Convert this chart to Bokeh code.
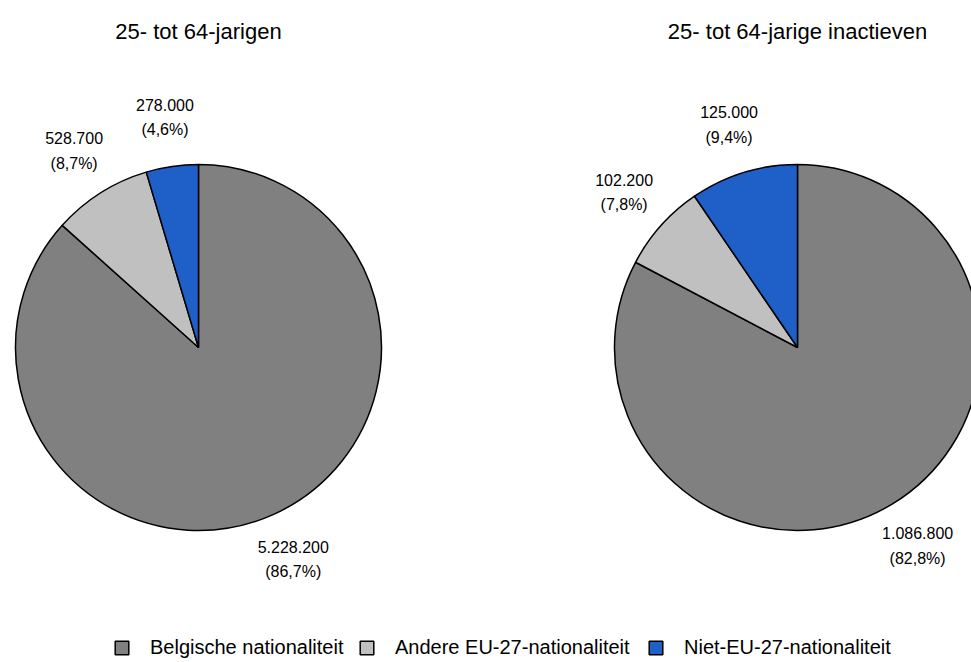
import numpy as np
from bokeh.plotting import figure
from bokeh.models import Range1d, ColumnDataSource, Legend, LegendItem
from bokeh.core.properties import value
from bokeh.embed import file_html
from bokeh.resources import INLINE

# ---- data ----
categories = ["Belgische nationaliteit", "Andere EU-27-nationaliteit", "Niet-EU-27-nationaliteit"]
colors = ["#808080", "#C0C0C0", "#1F5FC8"]
titles = ["25- tot 64-jarigen", "25- tot 64-jarige inactieven"]
values_all = [5228200, 528700, 278000]
values_inactive = [1086800, 102200, 125000]
pct_all = ["86,7%", "8,7%", "4,6%"]
pct_inactive = ["82,8%", "7,8%", "9,4%"]

FONT = "Liberation Sans"
W, H = 971, 662
# coordinates: x = page x, y = 662 - page y
p = figure(width=W, height=H, output_backend="svg", toolbar_location=None,
           x_range=Range1d(0, W), y_range=Range1d(662 - H, 662),
           x_axis_location=None, y_axis_location=None,
           min_border=0, min_border_left=0, min_border_right=0,
           min_border_top=0, min_border_bottom=0)
p.grid.visible = False
p.outline_line_color = None
p.background_fill_color = "white"
p.border_fill_color = "white"

R = 183
centers = [(198, 662 - 347), (797, 662 - 347)]

def fmt(v):
    return f"{v:,}".replace(",", ".")

renderers = []
for (cx, cy), vals, pcts, title in zip(centers, [values_all, values_inactive],
                                       [pct_all, pct_inactive], titles):
    vals = np.array(vals, dtype=float)
    frac = vals / vals.sum()
    cum = np.concatenate([[0], np.cumsum(frac)])
    # clockwise from 12 o'clock
    end = np.pi / 2 - 2 * np.pi * cum[:-1]
    start = np.pi / 2 - 2 * np.pi * cum[1:]
    mid = (start + end) / 2
    src = ColumnDataSource(dict(x=[cx] * 3, y=[cy] * 3, start=start, end=end,
                                color=colors, cat=categories))
    r = p.wedge(x="x", y="y", radius=R, start_angle="start", end_angle="end",
                direction="anticlock", fill_color="color", line_color="black",
                line_width=1.5, source=src)
    renderers.append(r)
    d = R * 1.27
    lx = cx + d * np.cos(mid)
    ly = cy + d * np.sin(mid)
    lsrc = ColumnDataSource(dict(x=lx, y=ly, v=[fmt(int(v)) for v in vals],
                                 pc=["(" + s + ")" for s in pcts]))
    p.text(x="x", y="y", text="v", source=lsrc, text_align="center",
           text_baseline="middle", y_offset=-13, text_font=value(FONT),
           text_font_size="16px", text_color="black")
    p.text(x="x", y="y", text="pc", source=lsrc, text_align="center",
           text_baseline="middle", y_offset=12, text_font=value(FONT),
           text_font_size="16px", text_color="black")
    p.text(x=[cx], y=[662 - 31], text=[title], text_align="center",
           text_baseline="middle", text_font=value(FONT),
           text_font_size="22px", text_color="black")

legend_x = [113, 358, 647]
for i, c in enumerate(categories):
    lg = Legend(items=[LegendItem(label=c, renderers=[renderers[0]], index=i)],
                orientation="horizontal", location=(legend_x[i], 3),
                glyph_width=17, glyph_height=17, label_standoff=20, spacing=0,
                padding=0, margin=0, border_line_alpha=0, background_fill_alpha=0,
                label_text_font=FONT, label_text_font_size="20px",
                label_height=17, label_text_color="black")
    p.add_layout(lg, "center")

open("out.html", "w").write(file_html(p, INLINE))
